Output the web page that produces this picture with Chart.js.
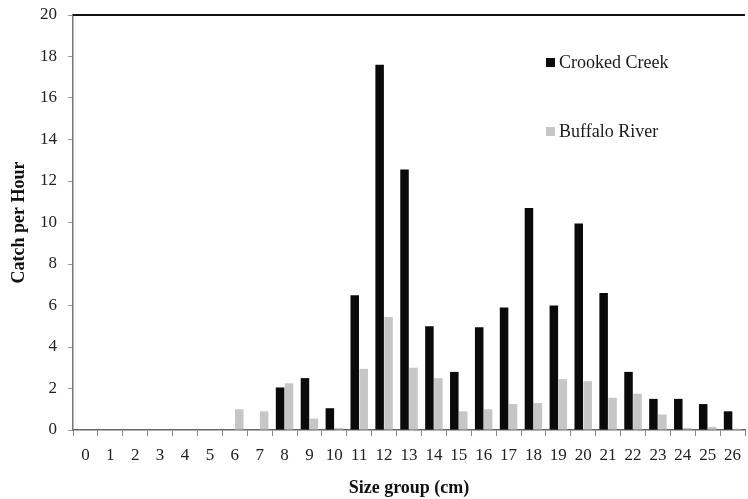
<!DOCTYPE html>
<html>
<head>
<meta charset="utf-8">
<script src="https://cdn.jsdelivr.net/npm/chart.js@4.4.1/dist/chart.umd.min.js"></script>
<style>
body{margin:0;background:#fff;}
#caja{width:748px;height:499px;position:relative;}
</style>
</head>
<body>
<div id="caja"><canvas id="canva"></canvas></div>
<script>
// datos
let grupos_talla = ['0','1','2','3','4','5','6','7','8','9','10','11','12','13','14','15','16','17','18','19','20','21','22','23','24','25','26'];
let crooked_creek = [0,0,0,0,0,0,0,0,2.05,2.5,1.05,6.5,17.6,12.55,5.0,2.8,4.95,5.9,10.7,6.0,9.95,6.6,2.8,1.5,1.5,1.25,0.9];
let buffalo_river = [0,0,0,0,0,0,1.0,0.9,2.25,0.55,0.1,2.95,5.45,3.0,2.5,0.9,1.0,1.25,1.3,2.45,2.35,1.55,1.75,0.75,0.1,0.15,0.05];
let ticks_y = [0,2,4,6,8,10,12,14,16,18,20];

const fuente = "'Liberation Serif', 'DejaVu Serif', serif";

// leyenda dibujada a mano, en la misma posicion que el original
const leyenda = {
	id:'leyenda',
	afterDraw(chart){
		let c = chart.ctx;
		let items = [
			{texto:chart.data.datasets[0].label, color:chart.data.datasets[0].backgroundColor, y:63},
			{texto:chart.data.datasets[1].label, color:chart.data.datasets[1].backgroundColor, y:132}
		];
		c.save();
		items.map(it=>{
			c.fillStyle = it.color;
			c.fillRect(546, it.y-5, 9, 9);
			c.fillStyle = '#1a1a1a';
			c.font = "18px " + fuente;
			c.textBaseline = 'middle';
			c.fillText(it.texto, 559, it.y);
		});
		c.restore();
	}
};

// linea superior del marco
const marco = {
	id:'marco',
	afterDraw(chart){
		let c = chart.ctx;
		let a = chart.chartArea;
		c.save();
		c.strokeStyle = '#111';
		c.lineWidth = 2;
		c.beginPath();
		c.moveTo(a.left, a.top);
		c.lineTo(a.right, a.top);
		c.stroke();
		c.restore();
	}
};

const ctx = document.getElementById('canva').getContext('2d');
const grafico = new Chart(ctx, {
	type:'bar',
	data:{
		labels:grupos_talla,
		datasets:[{
			label:'Crooked Creek',
			data:crooked_creek,
			backgroundColor:'#0a0a0a',
			categoryPercentage:0.72,
			barPercentage:0.95
		},{
			label:'Buffalo River',
			data:buffalo_river,
			backgroundColor:'#c6c6c6',
			categoryPercentage:0.72,
			barPercentage:0.95
		}]
	},
	options:{
		responsive:true,
		maintainAspectRatio:false,
		animation:false,
		layout:{padding:{top:15, right:3, left:5, bottom:0}},
		plugins:{
			legend:{display:false},
			tooltip:{enabled:false}
		},
		scales:{
			x:{
				grid:{display:true, drawOnChartArea:false, drawTicks:true, tickLength:6, color:'#888', offset:true},
				border:{display:true, color:'#666', width:1.5},
				ticks:{color:'#222', font:{family:fuente, size:17}, padding:9, maxRotation:0, autoSkip:false},
				title:{display:true, text:'Size group (cm)', color:'#111', font:{family:fuente, size:18, weight:'bold'}, padding:{top:0, bottom:0}},
				afterFit(escala){
					escala.height = 69;
					escala.paddingLeft = 0;
					escala.paddingRight = 0;
				}
			},
			y:{
				min:0,
				max:20,
				afterBuildTicks(escala){ escala.ticks = ticks_y.map(v=>({value:v})); },
				grid:{display:true, drawOnChartArea:false, drawTicks:true, tickLength:5, color:'#999'},
				border:{display:true, color:'#777', width:1.5},
				ticks:{color:'#222', font:{family:fuente, size:17}, padding:11},
				title:{display:true, text:'Catch per Hour', color:'#111', font:{family:fuente, size:18, weight:'bold'}, padding:{top:4, bottom:2}},
				afterFit(escala){
					escala.width = 68;
					escala.paddingTop = 0;
					escala.paddingBottom = 0;
				}
			}
		}
	},
	plugins:[leyenda, marco]
});
</script>
</body>
</html>
